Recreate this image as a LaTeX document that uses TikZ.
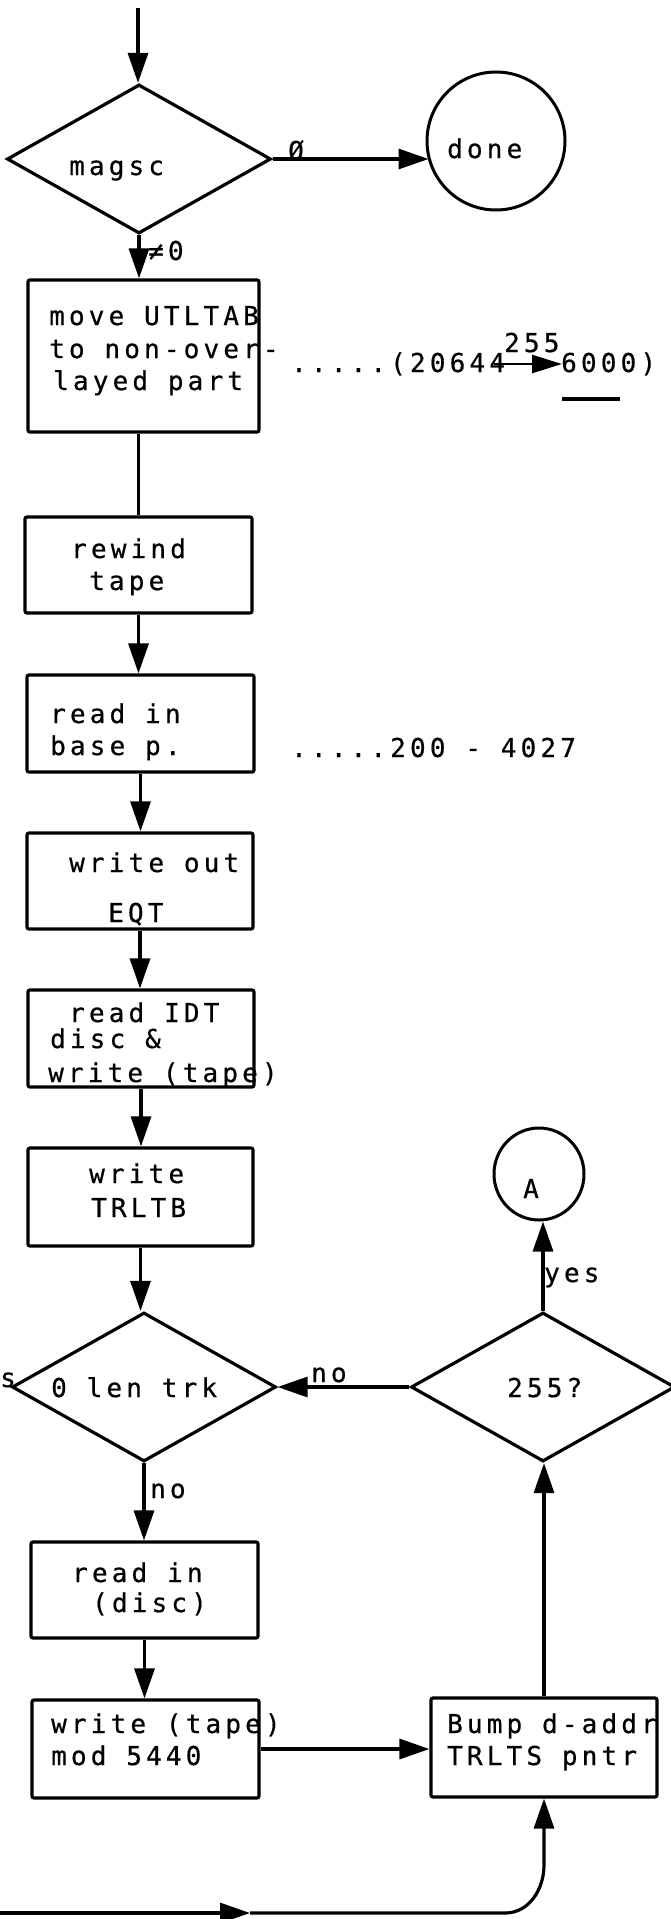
\documentclass[tikz,border=0pt]{standalone}
\usepackage{fontspec}
\newfontfamily\tw[LetterSpace=16,FakeBold=0.6]{DejaVu Sans Mono}
\usetikzlibrary{shapes.geometric,arrows.meta}
\begin{document}
\begin{tikzpicture}[x=1pt,y=-1pt,
  ln/.style={line width=3.2pt},
  arr/.style={ln,-{Triangle[length=30pt,width=20pt]}},
  sarr/.style={line width=2.6pt,-{Triangle[length=30pt,width=18pt]}},
  box/.style={draw,ln,rounded corners=2pt,inner sep=0pt},
  dia/.style={draw,ln,diamond,inner sep=0pt,minimum width=264pt,minimum height=149pt},
  term/.style={draw,line width=3pt,ellipse,inner sep=0pt},
  txt/.style={font=\tw\fontsize{26}{30}\selectfont,inner sep=0pt,anchor=base west},
]
\useasboundingbox (0,0) rectangle (670,1919);
\fill[white] (0,0) rectangle (670,1919);

% shapes
\node[dia] (m) at (139,159) {};
\node[term,minimum width=138pt,minimum height=138pt] (done) at (496,141) {};
\node[box,minimum width=231pt,minimum height=152pt] (b1) at (143.5,356) {};
\node[box,minimum width=227pt,minimum height=96pt] (b2) at (138.5,565) {};
\node[box,minimum width=227pt,minimum height=97pt] (b3) at (140.5,723.5) {};
\node[box,minimum width=226pt,minimum height=96pt] (b4) at (140,881) {};
\node[box,minimum width=226pt,minimum height=97pt] (b5) at (141,1038.5) {};
\node[box,minimum width=225pt,minimum height=98pt] (b6) at (140.5,1197) {};
\node[dia] (d2) at (144,1387) {};
\node[dia] (d3) at (543,1387) {};
\node[term,minimum width=90pt,minimum height=92pt] (A) at (539,1174) {};
\node[box,minimum width=227pt,minimum height=96pt] (b7) at (144.5,1590) {};
\node[box,minimum width=227pt,minimum height=98pt] (b8) at (145.5,1749) {};
\node[box,minimum width=226pt,minimum height=99pt] (bump) at (544,1747.5) {};

% texts
\node[txt] (tm) at (69,175) {magsc};
\node[txt] (tdone) at (447,158) {done};
\node[txt] (tzero) at (288,160) {Ø};
\node[txt] (tne) at (148,260) {≠0};
\node[txt] (t1a) at (49,325) {move UTLTAB};
\node[txt] (t1b) at (49,358) {to non-over-};
\node[txt] (t1c) at (53,390) {layed part};
\node[txt] (n1a) at (291,372) {.....(20644};
\node[txt] (n1b) at (561,372) {6000)};
\node[txt] (t255) at (504,352) {255};
\node[txt] (t2a) at (71,558) {rewind};
\node[txt] (t2b) at (89,590) {tape};
\node[txt] (t3a) at (50,723) {read in};
\node[txt] (t3b) at (50,755) {base p.};
\node[txt] (n3) at (291,757) {.....200 - 4027};
\node[txt] (t4a) at (69,872) {write out};
\node[txt] (t4b) at (108,922) {EQT};
\node[txt] (t5a) at (69,1022) {read IDT};
\node[txt] (t5b) at (50,1048) {disc \&};
\node[txt] (t5c) at (48,1082) {write (tape)};
\node[txt] (t6a) at (89,1183) {write};
\node[txt] (t6b) at (91,1217) {TRLTB};
\node[txt] (td2) at (51,1397) {0 len trk};
\node[txt] (td3) at (507,1397) {255?};
\node[txt] (tno1) at (311,1382) {no};
\node[txt] (tyes1) at (0,1387) {s};
\node[txt] (tA) at (523,1198) {A};
\node[txt] (tyes2) at (544,1282) {yes};
\node[txt] (tno2) at (150,1498) {no};
\node[txt] (t7a) at (72,1582) {read in};
\node[txt] (t7b) at (92,1612) {(disc)};
\node[txt] (t8a) at (51,1733) {write (tape)};
\node[txt] (t8b) at (51,1765) {mod 5440};
\node[txt] (t9a) at (447,1733) {Bump d-addr};
\node[txt] (t9b) at (447,1765) {TRLTS pntr};

% annotation arrow and underline
\coordinate (aL) at (494,364);
\coordinate (aR) at (562,364);
\draw[sarr] (aL) -- (aR);
\coordinate (uL) at (562,399);
\coordinate (uR) at (620,399);
\draw[ln] (uL) -- (uR);

% connectors
\coordinate (top) at (138,8);
\draw[arr] (top) -- (top |- m.north);
\draw[arr] (m.east) -- ([xshift=3pt]m.east -| done.west);
\draw[arr] (m.south) -- (m.south |- b1.north);
\draw[ln] (b2.north |- b1.south) -- (b2.north);
\draw[arr] (b2.south) -- (b2.south |- b3.north);
\draw[arr] (b3.south) -- (b3.south |- b4.north);
\draw[arr] (b4.south) -- (b4.south |- b5.north);
\draw[arr] (b5.south) -- (b5.south |- b6.north);
\draw[arr] (b6.south) -- (b6.south |- d2.north);
\draw[arr] (d3.west) -- (d2.east);
\draw[arr] (d3.north) -- (d3.north |- A.south);
\draw[arr] (d2.south) -- (d2.south |- b7.north);
\draw[arr] (b7.south) -- (b7.south |- b8.north);
\draw[arr] (b8.east) -- (b8.east -| bump.west);
\draw[arr] (bump.north) -- (bump.north |- d3.south);
\coordinate (inL) at (0,1913);
\coordinate (inM) at (250,1913);
\coordinate (bend) at (505,1913);
\coordinate (up) at (544,1865);
\draw[arr] (inL) -- (inM);
\draw[arr] (inM) -- (bend) to[out=0,in=-90] (up) -- (bump.south);
\end{tikzpicture}
\end{document}
